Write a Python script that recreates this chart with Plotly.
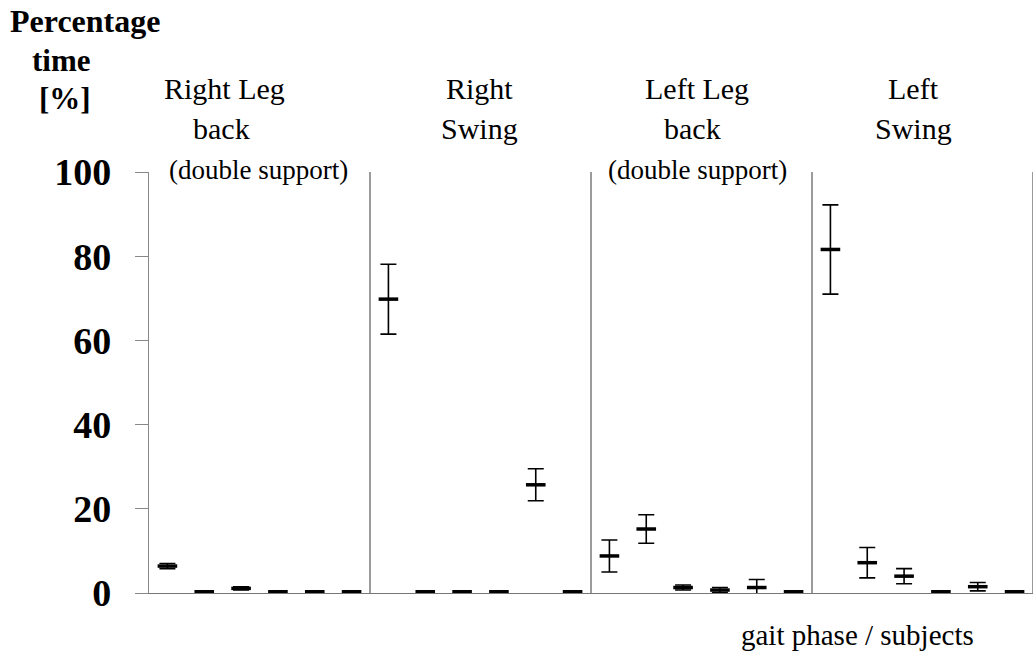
import plotly.graph_objects as go

phases = ["Right Leg back", "Right Swing", "Left Leg back", "Left Swing"]
subjects = ["S1", "S2", "S3", "S4", "S5", "S6"]

right_back_mean = [6.4, 0.3, 1.1, 0.3, 0.3, 0.3]
right_back_err = [0.6, 0.2, 0.4, 0.2, 0.2, 0.2]
right_swing_mean = [69.8, 0.3, 0.3, 0.3, 25.7, 0.3]
right_swing_err = [8.3, 0.2, 0.2, 0.2, 3.8, 0.2]
left_back_mean = [8.8, 15.2, 1.3, 0.7, 1.3, 0.3]
left_back_err = [3.8, 3.4, 0.6, 0.6, 1.9, 0.2]
left_swing_mean = [81.6, 7.2, 4.0, 0.3, 1.5, 0.3]
left_swing_err = [10.6, 3.6, 1.8, 0.2, 1.0, 0.2]

y_ticks = [0, 20, 40, 60, 80, 100]

means = right_back_mean + right_swing_mean + left_back_mean + left_swing_mean
errs = right_back_err + right_swing_err + left_back_err + left_swing_err
cats = [f"{p}|{s}" for p in phases for s in subjects]

fig = go.Figure()
fig.add_trace(go.Scatter(
    x=cats, y=means, mode="markers",
    marker=dict(symbol="line-ew", size=14, color="black",
                line=dict(color="black", width=3.5)),
    error_y=dict(type="data", array=errs, visible=True,
                 color="black", thickness=1.6, width=8),
    showlegend=False, hoverinfo="x+y",
))

# group dividers
n = len(subjects)
for g in range(1, len(phases) + 1):
    xb = g * n - 0.5
    fig.add_shape(type="line", xref="x", yref="y", x0=xb, x1=xb, y0=-1.0, y1=100.5,
                  line=dict(color="#666666", width=1.3))

serif = "Liberation Serif, Times New Roman, serif"
W, H = 1036, 656
L, R, T, B = 149, 3, 172, 63
pw, ph = W - L - R, H - T - B

fig.update_layout(
    width=W, height=H,
    margin=dict(l=L, r=R, t=T, b=B),
    paper_bgcolor="white", plot_bgcolor="white",
    font=dict(family=serif, color="black"),
    xaxis=dict(type="category", categoryorder="array", categoryarray=cats,
               range=[-0.5, len(cats) - 0.5], showticklabels=False, ticks="",
               showgrid=False, zeroline=False, showline=True,
               linecolor="#777777", linewidth=1.3),
    yaxis=dict(range=[0, 100], tickvals=y_ticks, ticktext=[str(v) for v in y_ticks],
               ticks="outside", ticklen=13, tickwidth=1.3, tickcolor="#888888",
               showgrid=False, zeroline=False, showline=True,
               linecolor="#888888", linewidth=1.3,
               tickfont=dict(family=serif, size=38, color="black", weight="bold"),
               ticklabelstandoff=16),
)


def place(text, xp, yp, size, bold=False):
    if bold:
        text = f"<b>{text}</b>"
    fig.add_annotation(text=text, x=(xp - L) / pw, y=(H - B - yp) / ph,
                       xref="paper", yref="paper", showarrow=False,
                       xanchor="center", yanchor="middle",
                       font=dict(family=serif, size=size, color="black"))


place("Percentage", 85, 21, 32, True)
place("time", 61, 60, 31, True)
place("[%]", 65, 98, 31, True)

place("Right Leg", 224, 88, 30)
place("back", 221, 128, 30)
place("(double support)", 258, 170, 27)
place("Right", 479, 88, 30)
place("Swing", 479, 128, 30)
place("Left Leg", 697, 88, 30)
place("back", 692, 128, 30)
place("(double support)", 697, 170, 27)
place("Left", 913, 88, 30)
place("Swing", 913, 128, 30)
place("gait phase / subjects", 857, 635, 29)

fig.write_html("out.html")
